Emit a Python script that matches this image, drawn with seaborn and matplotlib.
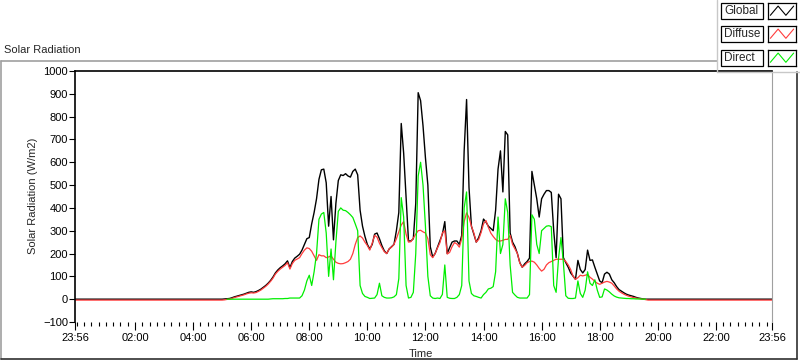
import matplotlib

matplotlib.use("Agg")

import matplotlib.dates as mdates
import matplotlib.pyplot as plt
import numpy as np
import pandas as pd
import seaborn as sns
from matplotlib.lines import Line2D
from matplotlib.patches import Rectangle

nan = np.nan

# 5-minute readings from 05:00 to 19:40, one row per hour
day_start = "2000-01-02 05:00"
day_end = "2000-01-02 19:40"
night_edges = ["2000-01-01 23:56", "2000-01-02 23:56"]

global_rad = [
    0, 1, 2, 3, 6, 10, 13, 16, 19, 22, 26, 30,
    32, 30, 33, 38, 44, 52, 60, 70, 82, 97, 115, 128,
    138, 146, 155, 168, 138, 165, 180, 188, 197, 215, 240, 265,
    270, 330, 380, 440, 525, 567, 570, 510, 320, 450, 260, 420,
    520, 545, 542, 550, 540, 535, 560, 570, 545, 390, 320, 275,
    240, 220, 240, 285, 290, 265, 235, 212, 200, 220, 230, 240,
    300, 380, 770, 640, 450, 255, 255, 265, 420, 905, 870, 760,
    620, 500, 230, 185, 200, 228, 255, 285, 340, 200, 226, 250,
    255, 255, 240, 280, 650, 875, 490, 320, 285, 250, 270, 300,
    351, 338, 320, 310, 300, 390, 570, 650, 470, 735, 720, 290,
    250, 230, 200, 160, 140, 155, 165, 180, 560, 500, 440, 360,
    440, 460, 476, 476, 468, 300, 182, 460, 440, 182, 160, 140,
    115, 101, 87, 170, 130, 115, 130, 215, 170, 172, 140, 110,
    80, 72, 110, 118, 110, 85, 72, 55, 42, 35, 28, 22,
    18, 15, 12, 8, 5, 3, 1, 0, 0,
]

diffuse_rad = [
    -4, -3, -1, 0, 3, 7, 10, 13, 16, 19, 23, 26,
    28, 27, 29, 34, 40, 48, 56, 66, 78, 92, 110, 122,
    132, 140, 148, 160, 132, 156, 170, 176, 182, 200, 215, 225,
    222, 210, 190, 170, 195, 190, 190, 182, 185, 190, 175, 162,
    157, 155, 156, 160, 165, 175, 200, 240, 270, 277, 268, 250,
    235, 215, 245, 280, 272, 245, 226, 208, 200, 220, 228, 240,
    265, 295, 325, 340, 285, 250, 252, 268, 285, 300, 302, 295,
    290, 265, 195, 182, 200, 225, 248, 290, 300, 198, 205, 230,
    248, 242, 228, 265, 340, 378, 358, 320, 290, 250, 262, 292,
    330, 345, 315, 290, 275, 262, 255, 255, 258, 262, 262, 280,
    240, 220, 200, 158, 140, 148, 160, 165, 167, 162, 150, 135,
    123, 131, 150, 160, 165, 170, 175, 175, 175, 175, 165, 150,
    130, 101, 87, 94, 105, 102, 105, 108, 96, 88, 78, 70,
    65, 70, 75, 78, 75, 70, 58, 45, 35, 28, 22, 17,
    13, 10, 7, 5, 3, 1, 0, -2, -4,
]

direct_rad = [
    nan, nan, 0, 0, 0, 0, 0, 0, 0, 0, 0, 0,
    0, 0, 0, 0, 0, 0, 0, 0, 1, 2, 2, 2,
    2, 2, 3, 3, 5, 5, 5, 5, 5, 15, 40, 80,
    105, 60, 120, 200, 350, 373, 380, 290, 100, 220, 85, 250,
    385, 400, 390, 388, 380, 370, 358, 330, 300, 60, 25, 12,
    8, 3, 4, 5, 20, 70, 15, 8, 5, 5, 6, 10,
    20, 90, 445, 360, 60, 5, 8, 30, 200, 540, 600, 500,
    320, 100, 15, 5, 3, 5, 3, 21, 150, 8, 4, 3,
    3, 8, 20, 60, 400, 470, 80, 25, 15, 12, 8, 5,
    20, 30, 45, 48, 55, 120, 360, 200, 240, 440, 380, 150,
    30, 18, 8, 5, 5, 5, 5, 20, 370, 350, 240, 200,
    300, 310, 320, 322, 318, 60, 30, 180, 270, 160, 15, 4,
    3, 3, 5, 80, 25, 8, 40, 120, 70, 60, 85, 40,
    8, 10, 45, 40, 32, 22, 14, 9, 6, 5, 4, 3,
    3, 2, 2, 1, 1, 1, 0, 0, nan,
]

global_night = 0
diffuse_night = -4

series_names = ["Global", "Diffuse", "Direct"]
series_colors = ["#000000", "#ff3c3c", "#00ee00"]
tick_hours = ["02:00", "04:00", "06:00", "08:00", "10:00", "12:00",
              "14:00", "16:00", "18:00", "20:00", "22:00"]

W, H = 800, 361


def fx(px):
    return px / W


def fy(py):
    return 1 - py / H


times = pd.date_range(day_start, day_end, freq="5min")
edges = pd.to_datetime(night_edges)
all_times = [edges[0], *times, edges[1]]
data = pd.DataFrame({
    "time": all_times,
    "Global": [global_night, *global_rad, global_night],
    "Diffuse": [diffuse_night, *diffuse_rad, diffuse_night],
    "Direct": [nan, *direct_rad, nan],
})

sns.set_style("white")
plt.rcParams["font.family"] = ["Liberation Sans", "DejaVu Sans"]
plt.rcParams["font.size"] = 8

fig = plt.figure(figsize=(W / 100, H / 100), dpi=100)
fig.patch.set_facecolor("white")
ax = fig.add_axes([fx(75), fy(322), fx(772) - fx(75), fy(71) - fy(322)])

widths = [1.0, 0.9, 0.9]
for name, color, lw in zip(series_names, series_colors, widths):
    part = data[["time", name]].dropna()
    sns.lineplot(data=part, x="time", y=name, color=color, linewidth=lw, ax=ax)

ax.set_xlim(edges[0], edges[1])
ax.set_ylim(-100, 1000)
ax.set_yticks(np.arange(-100, 1001, 100))
major = [edges[0], *pd.to_datetime([f"2000-01-02 {h}" for h in tick_hours]), edges[1]]
ax.set_xticks(mdates.date2num(major))
ax.set_xticklabels(["23:56", *tick_hours, "23:56"])
ax.xaxis.set_minor_locator(mdates.MinuteLocator(byminute=[0, 15, 30, 45]))
ax.tick_params(axis="x", which="major", direction="out", length=6, width=0.8, pad=2, labelsize=8)
ax.tick_params(axis="x", which="minor", direction="out", length=3, width=0.8)
ax.tick_params(axis="y", which="major", direction="out", length=4, width=0.8, pad=1, labelsize=8)
ax.tick_params(axis="both", which="both", bottom=True, left=True, colors="black")
ax.set_xlabel("")
ax.set_ylabel("")
for side in ["top", "left"]:
    ax.spines[side].set_color("black")
    ax.spines[side].set_linewidth(1.2)
ax.spines["right"].set_color("#a0a0a0")
ax.spines["bottom"].set_visible(False)
ax.grid(False)

fig.text(fx(4), fy(50), "Solar Radiation", ha="left", va="center", fontsize=8)
fig.text(fx(33), fy(196), "Solar Radiation (W/m2)", rotation=90, ha="center", va="center", fontsize=8)
fig.text(fx(421), fy(354), "Time", ha="center", va="center", fontsize=8)

# outer panel frame
frame = [((0.5, 61), (717, 61), "#a0a0a0"), ((0.5, 61), (0.5, 359), "#a0a0a0"),
         ((0.5, 359), (797, 359), "#303030"), ((797, 72), (797, 359), "#303030")]
for (x0, y0), (x1, y1), c in frame:
    fig.add_artist(Line2D([fx(x0), fx(x1)], [fy(y0), fy(y1)], color=c, linewidth=1.2))

# legend panel
fig.add_artist(Line2D([fx(717), fx(717)], [fy(0), fy(72)], color="#c8c8c8", linewidth=1))
fig.add_artist(Line2D([fx(717), fx(800)], [fy(72), fy(72)], color="#c8c8c8", linewidth=1))
row_tops = [3, 26, 50]
for name, color, top in zip(series_names, series_colors, row_tops):
    fig.add_artist(Rectangle((fx(721), fy(top + 16)), fx(763) - fx(721), fy(top) - fy(top + 16),
                             facecolor="white", edgecolor="black", linewidth=0.9))
    fig.text(fx(724), fy(top + 8), name, ha="left", va="center", fontsize=8.5)
    sw = fig.add_axes([fx(768), fy(top + 16), fx(796) - fx(768), fy(top) - fy(top + 16)])
    sw.plot([0, 1, 2, 3], [0.1, 0.85, 0.1, 0.85], color=color, linewidth=0.8)
    sw.set_xlim(-0.3, 3.3)
    sw.set_ylim(-0.2, 1.1)
    sw.set_xticks([])
    sw.set_yticks([])
    for s in sw.spines.values():
        s.set_color("black")
        s.set_linewidth(0.9)

fig.savefig("out.png", dpi=100)
plt.close(fig)
